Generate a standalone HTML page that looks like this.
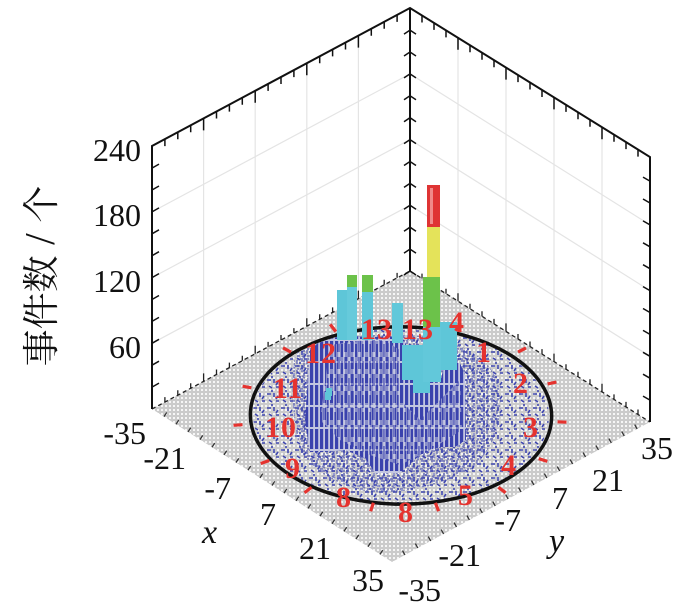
<!DOCTYPE html>
<html><head><meta charset="utf-8"><style>
html,body{margin:0;padding:0;background:#fff;}
svg{display:block;}
.n{font-family:"Liberation Serif",serif;font-size:32px;fill:#111;}
.it{font-family:"Liberation Serif",serif;font-style:italic;font-size:34px;fill:#111;}
.r{font-family:"Liberation Serif",serif;font-weight:bold;font-size:30px;fill:#e5332f;letter-spacing:1px;}
</style></head><body>
<svg width="687" height="606" viewBox="0 0 687 606" xmlns="http://www.w3.org/2000/svg">
<defs>
<pattern id="fl" width="4" height="4" patternUnits="userSpaceOnUse"><rect width="4" height="4" fill="#cbcbcb"/><rect x="1" y="1" width="2" height="2" fill="#f6f6f6"/></pattern>
<pattern id="sp" width="14" height="14" patternUnits="userSpaceOnUse"><path d="M1 2h4M8 1v4M3 8l3 2M10 9h3M6 12v2M12 4l-2 3" stroke="#3f47b0" stroke-width="1.6" fill="none"/></pattern>
<pattern id="sp2" width="10" height="10" patternUnits="userSpaceOnUse"><path d="M1 1h4M7 0v4M2 6l3 2M7 6h3M0 9h3M8 8v2M4 3v3" stroke="#3a42ad" stroke-width="1.7" fill="none"/></pattern>
<pattern id="st" width="5" height="22" patternUnits="userSpaceOnUse"><rect width="5" height="22" fill="#c3c6e0"/><rect width="3.2" height="9" fill="#3a42ad"/><rect y="11" width="3.2" height="11" fill="#3a42ad"/></pattern>
<pattern id="st2" width="7" height="17" patternUnits="userSpaceOnUse"><rect width="7" height="17" fill="#c8cbe0"/><rect x="1" width="3" height="12" fill="#3a42ad"/><rect x="5" y="4" width="2" height="13" fill="#3a42ad"/></pattern>
<clipPath id="ci"><circle r="0.84" transform="matrix(120 76.5 129 -70 401 415.5)"/></clipPath>
</defs>

<!-- wall grid -->
<g stroke="#e4e4e4" stroke-width="1.2" fill="none">
<path d="M152 343.3L410 205.3M152 277.6L410 139.6M152 211.9L410 73.9"/>
<path d="M410 205.3L650 356.3M410 139.6L650 290.6M410 73.9L650 224.9"/>
<path d="M203.6 118.4V381.4M255.2 90.8V353.8M306.8 63.2V326.2M358.4 35.6V298.6"/>
<path d="M458 37.8V301.2M506 67.6V331.4M554 97.4V361.6M602 127.2V391.8"/>
</g>

<!-- floor -->
<polygon points="152,409 410,271 650,422 392,562" fill="url(#fl)"/>
<g stroke="#222" stroke-width="1.3" fill="none">
<path d="M152 409L410 271L650 422" stroke-dasharray="4 3"/>
<path d="M164.9 402.1v-5M177.8 395.2v-5M190.7 388.3v-5M203.6 381.4v-8M216.5 374.5v-5M229.4 367.6v-5M242.3 360.7v-5M255.2 353.8v-8M268.1 346.9v-5M281 340v-5M293.9 333.1v-5M306.8 326.2v-8M319.7 319.3v-5M332.6 312.4v-5M345.5 305.5v-5M358.4 298.6v-8M371.3 291.7v-5M384.2 284.8v-5M397.1 277.9v-5"/>
<path d="M422 278.6v-5M434 286.1v-5M446 293.7v-5M458 301.2v-8M470 308.8v-5M482 316.3v-5M494 323.9v-5M506 331.4v-8M518 339v-5M530 346.5v-5M542 354.1v-5M554 361.6v-8M566 369.2v-5M578 376.7v-5M590 384.3v-5M602 391.8v-8M614 399.4v-5M626 406.9v-5M638 414.5v-5"/>
</g>
<g stroke="#333" stroke-width="1.3" fill="none">
<path d="M164 416.65l2.7 -4.2M176 424.3l2.7 -4.2M188 431.95l2.7 -4.2M200 439.6l2.7 -4.2M212 447.25l2.7 -4.2M224 454.9l2.7 -4.2M236 462.55l2.7 -4.2M248 470.2l2.7 -4.2M260 477.85l2.7 -4.2M272 485.5l2.7 -4.2M284 493.15l2.7 -4.2M296 500.8l2.7 -4.2M308 508.45l2.7 -4.2M320 516.1l2.7 -4.2M332 523.75l2.7 -4.2M344 531.4l2.7 -4.2M356 539.05l2.7 -4.2M368 546.7l2.7 -4.2M380 554.35l2.7 -4.2"/>
<path d="M404.9 555l-2.4 -4.4M417.8 548l-2.4 -4.4M430.7 541l-2.4 -4.4M443.6 534l-2.4 -4.4M456.5 527l-2.4 -4.4M469.4 520l-2.4 -4.4M482.3 513l-2.4 -4.4M495.2 506l-2.4 -4.4M508.1 499l-2.4 -4.4M521 492l-2.4 -4.4M533.9 485l-2.4 -4.4M546.8 478l-2.4 -4.4M559.7 471l-2.4 -4.4M572.6 464l-2.4 -4.4M585.5 457l-2.4 -4.4M598.4 450l-2.4 -4.4M611.3 443l-2.4 -4.4M624.2 436l-2.4 -4.4M637.1 429l-2.4 -4.4"/>
</g>

<!-- sparse blue -->
<rect x="230" y="310" width="350" height="210" fill="url(#sp)" clip-path="url(#ci)"/>
<path d="M295,355 Q330,330 420,336 Q490,345 500,390 Q505,440 470,470 Q420,495 370,492 Q320,482 300,450 Q288,400 295,355Z" fill="url(#sp2)" opacity="0.6"/>

<!-- circle -->
<circle r="0.855" transform="matrix(120 76.5 129 -70 401 415.5)" fill="none" stroke="#111" stroke-width="3.5" vector-effect="non-scaling-stroke"/>

<!-- back vertical axis -->
<path d="M410 8V271" stroke="#111" stroke-width="2" fill="none"/>
<path d="M404 253.1L410 249.1L416 253.1M404 231.2L410 227.2L416 231.2M404 209.3L410 205.3L416 209.3M404 187.4L410 183.4L416 187.4M404 165.5L410 161.5L416 165.5M404 143.6L410 139.6L416 143.6M404 121.7L410 117.7L416 121.7M404 99.8L410 95.8L416 99.8M404 77.9L410 73.9L416 77.9M404 56L410 52L416 56M404 34.1L410 30.1L416 34.1M404 275L410 271L416 275" stroke="#111" stroke-width="1.5" fill="none"/>

<!-- dense bars -->
<polygon points="310,350 318,343 337,337 345,336 375,337 390,336 405,342 410,355 425,380 440,383 445,362 460,363 465,375 466,440 455,447 440,447 420,455 400,473 375,473 365,458 345,450 325,452 310,452 305,420 308,380" fill="url(#st)"/>
<polygon points="330,345 380,338 400,350 400,400 420,420 440,400 460,380 462,430 430,450 400,465 370,455 340,440 320,420" fill="url(#st2)" opacity="0.55"/>

<!-- cyan / green / tall bar -->
<g>
<rect x="337" y="290" width="10" height="50" fill="#5ec6d8"/>
<rect x="347" y="287" width="10" height="53" fill="#66cadb"/>
<rect x="347" y="275" width="10" height="12" fill="#6cc24a"/>
<rect x="362" y="292" width="11" height="48" fill="#5ec6d8"/>
<rect x="362" y="275" width="11" height="17" fill="#6cc24a"/>
<rect x="392" y="303" width="11" height="40" fill="#62c8da"/>
<rect x="402" y="345" width="21" height="35" fill="#5ec6d8"/>
<rect x="413" y="360" width="17" height="33" fill="#5ec6d8"/>
<rect x="440" y="322" width="17" height="48" fill="#5ec6d8"/>
<rect x="423" y="327" width="18" height="55" fill="#62c8da"/>
<rect x="423" y="277" width="17" height="50" fill="#6cc24a"/>
<rect x="427" y="227" width="13" height="50" fill="#e4e35a"/>
<rect x="427" y="185" width="13" height="42" fill="#df3434"/>
<rect x="430" y="188" width="3" height="36" fill="#f08a8a"/>
<rect x="326" y="388" width="6" height="8" fill="#5ec6d8"/>
<rect x="325" y="392" width="6" height="8" fill="#5ec6d8"/>
</g>

<!-- red ticks -->
<path d="M283 347.8L291 352.2M242.6 386.2L251.4 387.8M233.5 425.3L242.5 424.7M260.7 463.5L269.3 460.5M304.5 492.8L311.5 487.2M370.6 511.3L373.4 502.7M438.6 511.2L435.4 502.8M505.6 492.7L498.4 487.3M547.3 461.4L538.7 458.6M566.5 422.2L557.5 421.8M556.4 382.1L547.6 383.9M526 347.9L518 352.1M460.4 323.2L455.6 330.8M330.2 324.4L335.8 331.6" stroke="#e5332f" stroke-width="3.2" fill="none"/>

<!-- red labels -->
<g class="r" text-anchor="middle">
<text x="484" y="362">1</text>
<text x="521" y="393">2</text>
<text x="531" y="437">3</text>
<text x="509" y="475">4</text>
<text x="466" y="505">5</text>
<text x="406" y="522">8</text>
<text x="344" y="507">8</text>
<text x="293" y="478">9</text>
<text x="281" y="437">10</text>
<text x="288" y="398">11</text>
<text x="321" y="363">12</text>
<text x="377" y="339">13</text>
<text x="418" y="339">13</text>
<text x="457" y="332">4</text>
</g>

<!-- frame axes -->
<g stroke="#111" stroke-width="2" fill="none">
<path d="M152 409V146L410 8L650 157V422"/>
</g>
<g stroke="#111" stroke-width="1.5" fill="none">
<path d="M152 387.1l7 -4M152 365.2l7 -4M152 343.3l7 -4M152 321.4l7 -4M152 299.5l7 -4M152 277.6l7 -4M152 255.7l7 -4M152 233.8l7 -4M152 211.9l7 -4M152 190l7 -4M152 168.1l7 -4"/>
<path d="M650 400.1l-7 -4M650 378.2l-7 -4M650 356.3l-7 -4M650 334.4l-7 -4M650 312.5l-7 -4M650 290.6l-7 -4M650 268.7l-7 -4M650 246.8l-7 -4M650 224.9l-7 -4M650 203l-7 -4M650 181.1l-7 -4"/>
<path d="M164.9 139.1v7M177.8 132.2v7M190.7 125.3v7M203.6 118.4v12M216.5 111.5v7M229.4 104.6v7M242.3 97.7v7M255.2 90.8v12M268.1 83.9v7M281 77v7M293.9 70.1v7M306.8 63.2v12M319.7 56.3v7M332.6 49.4v7M345.5 42.5v7M358.4 35.6v12M371.3 28.7v7M384.2 21.8v7M397.1 14.9v7"/>
<path d="M422 15.5v7M434 22.9v7M446 30.4v7M458 37.8v12M470 45.3v7M482 52.7v7M494 60.2v7M506 67.6v12M518 75.1v7M530 82.5v7M542 90v7M554 97.4v12M566 104.9v7M578 112.3v7M590 119.8v7M602 127.2v12M614 134.7v7M626 142.1v7M638 149.6v7"/>
</g>

<!-- labels -->
<g class="n" text-anchor="end">
<text x="141" y="161">240</text>
<text x="141" y="226">180</text>
<text x="141" y="292">120</text>
<text x="141" y="358">60</text>
<text x="146" y="444">-35</text>
<text x="186" y="469">-21</text>
<text x="231" y="499">-7</text>
<text x="276" y="525">7</text>
<text x="331" y="559">21</text>
<text x="384" y="591">35</text>
<text x="441" y="601">-35</text>
<text x="481" y="566">-21</text>
<text x="521" y="531">-7</text>
<text x="568" y="509">7</text>
<text x="624" y="491">21</text>
<text x="673" y="459">35</text>
</g>
<text class="it" x="202" y="543">x</text>
<text class="it" x="549" y="552">y</text>

<text transform="translate(54,276) rotate(-90)" text-anchor="middle" font-family="'Liberation Serif','Noto Serif CJK SC',serif" font-size="37" fill="#111">事件数<tspan font-size="42"> / </tspan>个</text>
</svg>
</body></html>
